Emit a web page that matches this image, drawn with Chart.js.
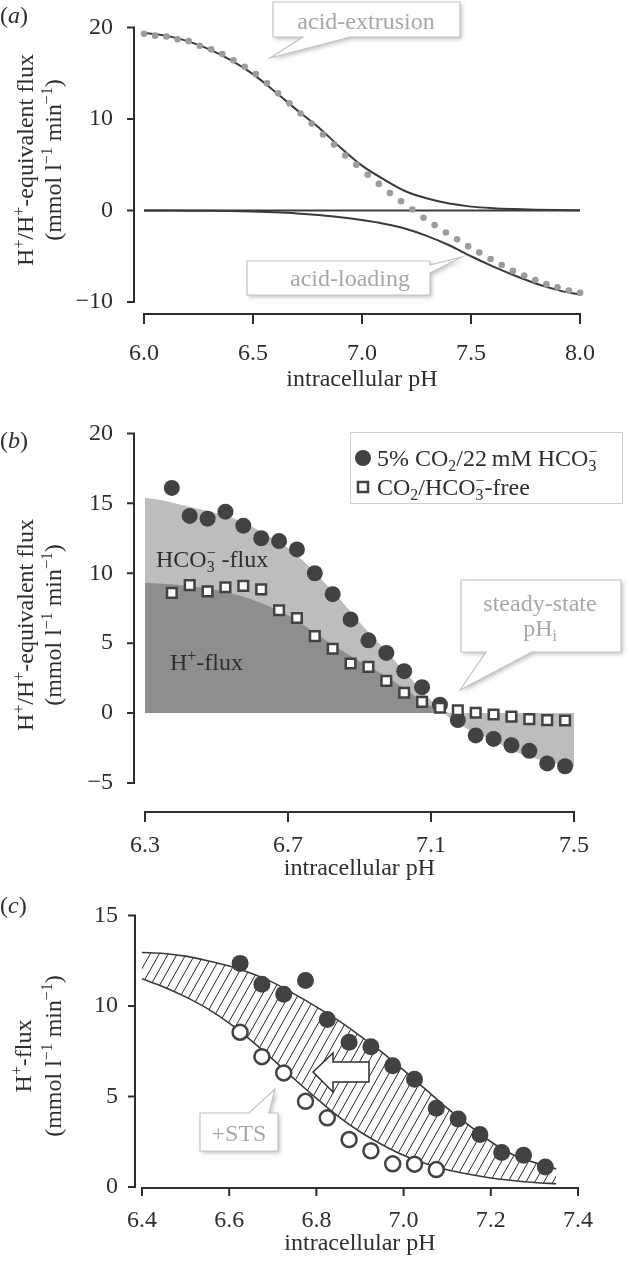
<!DOCTYPE html>
<html>
<head>
<meta charset="utf-8">
<title>intracellular pH fluxes</title>
<script src="https://cdn.jsdelivr.net/npm/chart.js@4.4.1/dist/chart.umd.min.js"></script>
<style>
  html, body { margin: 0; padding: 0; background: #fff; overflow: hidden; }
  #figure { position: relative; width: 629px; height: 1261px; overflow: hidden; }
  #figure canvas { position: absolute; left: 0; }
</style>
</head>
<body>
<div id="figure">
  <canvas id="chartA" width="629" height="405" style="top:-10px"></canvas>
  <canvas id="chartB" width="629" height="490" style="top:395px"></canvas>
  <canvas id="chartC" width="629" height="376" style="top:885px"></canvas>
</div>
<script>
// panel (a): modelled acid extrusion / acid loading and their sum
const phLineA = [6.0, 6.1, 6.2, 6.3, 6.4, 6.5, 6.6, 6.7, 6.8, 6.9, 7.0, 7.1, 7.2, 7.3, 7.4, 7.5, 7.6, 7.7, 7.8, 7.9, 8.0];
const acidExtrusion = [19.4, 19.1, 18.5, 17.6, 16.4, 14.9, 13.0, 11.0, 9.1, 6.9, 4.9, 3.4, 2.1, 1.3, 0.75, 0.42, 0.25, 0.15, 0.08, 0.04, 0.02];
const acidLoading = [0, -0.01, -0.02, -0.04, -0.07, -0.12, -0.2, -0.32, -0.5, -0.75, -1.05, -1.45, -2.0, -2.8, -3.8, -5.0, -6.1, -7.1, -8.0, -8.7, -9.2];
const phZeroA = [6.0, 8.0];
const zeroA = [0, 0];
const phDotsA = [6.000, 6.051, 6.103, 6.154, 6.205, 6.256, 6.308, 6.359, 6.410, 6.462, 6.513, 6.564, 6.615, 6.667, 6.718, 6.769, 6.821, 6.872, 6.923, 6.974,
                 7.026, 7.077, 7.128, 7.179, 7.231, 7.282, 7.333, 7.385, 7.436, 7.487, 7.538, 7.590, 7.641, 7.692, 7.744, 7.795, 7.846, 7.897, 7.949, 8.000];
const netFluxA = [19.3, 19.1, 19.0, 18.7, 18.5, 18.0, 17.6, 17.1, 16.4, 15.7, 14.9, 13.9, 12.8, 11.7, 10.6, 9.5, 8.3, 7.2, 6.0, 5.0,
                  3.9, 2.9, 1.9, 1.0, 0.1, -0.8, -1.6, -2.4, -3.15, -3.9, -4.6, -5.3, -5.95, -6.6, -7.1, -7.6, -8.05, -8.4, -8.75, -9.0];
const xTicksA = [6.0, 6.5, 7.0, 7.5, 8.0];
const yTicksA = [-10, 0, 10, 20];

// panel (b): measured fluxes with and without CO2/HCO3-
const phAreaB = [6.30, 6.35, 6.40, 6.45, 6.50, 6.55, 6.60, 6.65, 6.70, 6.75, 6.80, 6.85, 6.90, 6.95, 7.00, 7.05, 7.10, 7.15, 7.20, 7.25, 7.30, 7.35, 7.40, 7.45, 7.50];
const totalFluxB = [15.4, 15.2, 14.9, 14.6, 14.3, 13.9, 13.3, 12.6, 11.8, 10.7, 9.4, 8.0, 6.5, 5.1, 3.7, 2.3, 0.9, -0.3, -1.1, -1.7, -2.3, -2.9, -3.3, -3.6, -3.8];
const phHFluxB = [6.30, 6.35, 6.40, 6.45, 6.50, 6.55, 6.60, 6.65, 6.70, 6.75, 6.80, 6.85, 6.90, 6.95, 7.00, 7.05, 7.10, 7.15];
const hFluxB = [9.3, 9.25, 9.15, 9.0, 8.8, 8.5, 8.1, 7.6, 7.0, 6.2, 5.3, 4.5, 3.7, 3.0, 2.2, 1.3, 0.5, 0];
const phMeasB = [6.375, 6.425, 6.475, 6.525, 6.575, 6.625, 6.675, 6.725, 6.775, 6.825, 6.875, 6.925, 6.975, 7.025, 7.075, 7.125, 7.175, 7.225, 7.275, 7.325, 7.375, 7.425, 7.475];
const fluxCO2 = [16.1, 14.1, 13.9, 14.4, 13.4, 12.5, 12.3, 11.7, 10.0, 8.5, 6.7, 5.2, 4.3, 3.0, 1.85, 0.6, -0.5, -1.6, -1.85, -2.3, -2.7, -3.6, -3.8];
const fluxFree = [8.6, 9.15, 8.7, 9.0, 9.1, 8.85, 7.35, 6.8, 5.5, 4.6, 3.55, 3.3, 2.3, 1.45, 0.8, 0.38, 0.2, 0.02, -0.1, -0.25, -0.43, -0.5, -0.53];
const xTicksB = [6.3, 6.7, 7.1, 7.5];
const yTicksB = [-5, 0, 5, 10, 15, 20];

// panel (c): H+ flux, control vs +STS
const phFitC = [6.40, 6.45, 6.50, 6.55, 6.60, 6.65, 6.70, 6.75, 6.80, 6.85, 6.90, 6.95, 7.00, 7.05, 7.10, 7.15, 7.20, 7.25, 7.30, 7.35];
const fitControl = [12.95, 12.9, 12.75, 12.5, 12.2, 11.8, 11.3, 10.65, 9.95, 9.2, 8.35, 7.45, 6.45, 5.4, 4.35, 3.4, 2.5, 1.8, 1.35, 1.0];
const fitSTS = [11.5, 11.05, 10.5, 9.85, 9.05, 8.1, 7.05, 5.95, 4.9, 3.9, 3.05, 2.35, 1.75, 1.3, 0.95, 0.7, 0.5, 0.36, 0.25, 0.18];
const phControlC = [6.625, 6.675, 6.725, 6.775, 6.825, 6.875, 6.925, 6.975, 7.025, 7.075, 7.125, 7.175, 7.225, 7.275, 7.325];
const fluxControl = [12.35, 11.2, 10.65, 11.4, 9.25, 8.0, 7.75, 6.7, 5.95, 4.35, 3.75, 2.9, 1.9, 1.75, 1.1];
const phSTSC = [6.625, 6.675, 6.725, 6.775, 6.825, 6.875, 6.925, 6.975, 7.025, 7.075];
const fluxSTS = [8.55, 7.2, 6.3, 4.73, 3.82, 2.62, 2.0, 1.28, 1.26, 0.96];
const xTicksC = [6.4, 6.6, 6.8, 7.0, 7.2, 7.4];
const yTicksC = [0, 5, 10, 15];

const INK = '#2e2e2e';
const LINE = '#3a3a3a';
const MARK = '#424242';
const GREY_DOT = '#9c9c9c';
const LIGHT_AREA = '#bdbdbd';
const DARK_AREA = '#8e8e8e';
const CALLOUT_TEXT = '#a8a8a8';
const CALLOUT_LINE = '#c3c3c3';
const FONT = '"Liberation Serif", "Times New Roman", Times, serif';
const FS = 24;

const pts = (xs, ys) => xs.map((x, i) => ({ x: x, y: ys[i] }));
const fmtTick = v => v < 0 ? '\u2212' + Math.abs(v) : String(v);
const fmtPh = v => v.toFixed(1);
const font = (size, italic) => (italic ? 'italic ' : '') + size + 'px ' + FONT;

// "HCO_{3}^{−}" -> text parts, sub/sup stacked when they follow each other
const parseRich = s => {
  const parts = [];
  s.replace(/_\{([^}]*)\}|\^\{([^}]*)\}|[^_^]+/g, (m, sub, sup) => {
    const last = parts[parts.length - 1];
    if (sub !== undefined) parts.push({ sub: sub });
    else if (sup !== undefined) {
      if (last && last.sub !== undefined && last.sup === undefined) last.sup = sup;
      else parts.push({ sup: sup });
    } else parts.push({ t: m });
    return m;
  });
  return parts;
};

const drawRich = (ctx, src, x, y, opt) => {
  const o = Object.assign({ size: FS, align: 'left', color: INK }, opt);
  const parts = typeof src === 'string' ? parseRich(src) : src;
  const small = o.size * 0.66;
  const widths = parts.map(p => {
    if (p.t !== undefined) { ctx.font = font(o.size, p.it); return ctx.measureText(p.t).width; }
    ctx.font = font(small);
    return Math.max(p.sub ? ctx.measureText(p.sub).width : 0, p.sup ? ctx.measureText(p.sup).width : 0);
  });
  const total = widths.reduce((s, w) => s + w, 0);
  let cx = o.align === 'center' ? x - total / 2 : (o.align === 'right' ? x - total : x);
  ctx.save();
  ctx.fillStyle = o.color;
  ctx.textAlign = 'left';
  ctx.textBaseline = 'alphabetic';
  parts.forEach((p, i) => {
    if (p.t !== undefined) {
      ctx.font = font(o.size, p.it);
      ctx.fillText(p.t, cx, y);
    } else {
      ctx.font = font(small);
      if (p.sub) ctx.fillText(p.sub, cx, y + o.size * 0.2);
      if (p.sup) ctx.fillText(p.sup, cx, y - o.size * 0.38);
    }
    cx += widths[i];
  });
  ctx.restore();
};

// text centred on (cx, cy)
const centerText = (ctx, s, cx, cy, opt) => drawRich(ctx, s, cx, cy + FS * 0.33, Object.assign({ align: 'center' }, opt));

const verticalText = (ctx, s, cx, cy) => {
  ctx.save();
  ctx.translate(cx, cy);
  ctx.rotate(-Math.PI / 2);
  drawRich(ctx, s, 0, FS * 0.33, { align: 'center' });
  ctx.restore();
};

const panelLetter = (ctx, letter, cy) => {
  drawRich(ctx, [{ t: '(' }, { t: letter, it: true }, { t: ')' }], 0, cy + FS * 0.33);
};

const drawCallout = (ctx, outline, texts) => {
  ctx.save();
  ctx.beginPath();
  outline.forEach((p, i) => i ? ctx.lineTo(p[0], p[1]) : ctx.moveTo(p[0], p[1]));
  ctx.closePath();
  ctx.shadowColor = 'rgba(0,0,0,0.25)';
  ctx.shadowBlur = 4;
  ctx.shadowOffsetX = 2;
  ctx.shadowOffsetY = 2;
  ctx.fillStyle = '#fff';
  ctx.fill();
  ctx.shadowColor = 'transparent';
  ctx.strokeStyle = CALLOUT_LINE;
  ctx.lineWidth = 1.2;
  ctx.stroke();
  ctx.restore();
  texts.forEach(t => centerText(ctx, t[0], t[1], t[2], { color: CALLOUT_TEXT }));
};

// detached axis lines with outward ticks
const drawAxes = (chart, gapY, gapX, tickY, tickX) => {
  const { ctx, chartArea: a, scales: { x, y } } = chart;
  const ax = a.left - gapY;
  const ay = a.bottom + gapX;
  ctx.save();
  ctx.strokeStyle = INK;
  ctx.lineWidth = 2;
  ctx.beginPath();
  ctx.moveTo(ax, y.getPixelForValue(y.max) - 1);
  ctx.lineTo(ax, y.getPixelForValue(y.min) + 1);
  y.ticks.forEach(t => {
    const py = y.getPixelForValue(t.value);
    ctx.moveTo(ax - tickY, py);
    ctx.lineTo(ax, py);
  });
  ctx.moveTo(x.getPixelForValue(x.min) - 1, ay);
  ctx.lineTo(x.getPixelForValue(x.max) + 1, ay);
  x.ticks.forEach(t => {
    const px = x.getPixelForValue(t.value);
    ctx.moveTo(px, ay);
    ctx.lineTo(px, ay + tickX);
  });
  ctx.stroke();
  ctx.restore();
};

const axisOpts = (min, max, ticks, fmt, fit, pad) => ({
  type: 'linear',
  min: min,
  max: max,
  grid: { display: false },
  border: { display: false },
  afterBuildTicks: s => { s.ticks = ticks.map(v => ({ value: v })); },
  afterFit: fit,
  ticks: { color: INK, padding: pad, autoSkip: false, maxRotation: 0, font: { family: FONT, size: FS }, callback: fmt }
});

const chartOptions = (padding, xAxis, yAxis) => ({
  responsive: false,
  animation: false,
  devicePixelRatio: 1,
  layout: { padding: padding },
  plugins: {
    legend: { display: false },
    tooltip: { enabled: false },
    filler: { drawTime: 'beforeDatasetsDraw' }
  },
  scales: { x: xAxis, y: yAxis }
});

const curve = (xs, ys, extra) => Object.assign({
  data: pts(xs, ys),
  showLine: true,
  borderColor: LINE,
  borderWidth: 2,
  pointRadius: 0,
  cubicInterpolationMode: 'monotone',
  clip: false
}, extra);

const yTitle = ['H^{+}/H^{+}-equivalent flux', '(mmol l^{\u22121} min^{\u22121})'];

// ---------- (a)
new Chart(document.getElementById('chartA'), {
  type: 'scatter',
  data: {
    datasets: [
      { data: pts(phDotsA, netFluxA), pointRadius: 3.3, pointBackgroundColor: GREY_DOT, pointBorderWidth: 0, order: 0, clip: false },
      curve(phLineA, acidExtrusion, { order: 2 }),
      curve(phLineA, acidLoading, { order: 2 }),
      curve(phZeroA, zeroA, { order: 3 })
    ]
  },
  options: chartOptions({ left: 0, right: 49, top: 20, bottom: 0 },
    axisOpts(6, 8, xTicksA, fmtPh, s => { s.height = 93; }, 29),
    axisOpts(-10, 20, yTicksA, fmtTick, s => { s.width = 144; }, 23)),
  plugins: [{
    id: 'decorA',
    afterDraw: chart => {
      const ctx = chart.ctx;
      const a = chart.chartArea;
      drawAxes(chart, 10, 12, 7, 10);
      panelLetter(ctx, 'a', 25);
      verticalText(ctx, yTitle[0], 25, 170);
      verticalText(ctx, yTitle[1], 53, 170);
      centerText(ctx, 'intracellular pH', (a.left + a.right) / 2, 388);
      drawCallout(ctx, [[273, 12], [460, 12], [460, 47], [350, 47], [270, 68], [303, 47], [273, 47]],
        [['acid-extrusion', 366, 31]]);
      drawCallout(ctx, [[247, 271], [430, 271], [430, 275], [462, 267], [430, 283], [430, 305], [247, 305]],
        [['acid-loading', 350, 288]]);
    }
  }]
});

// ---------- (b)
new Chart(document.getElementById('chartB'), {
  type: 'scatter',
  data: {
    datasets: [
      curve(phAreaB, totalFluxB, { fill: 'origin', backgroundColor: LIGHT_AREA, borderColor: 'rgba(0,0,0,0)', borderWidth: 0, order: 5 }),
      curve(phHFluxB, hFluxB, { fill: 'origin', backgroundColor: DARK_AREA, borderColor: 'rgba(0,0,0,0)', borderWidth: 0, order: 4 }),
      { data: pts(phMeasB, fluxCO2), pointRadius: 8, pointBackgroundColor: MARK, pointBorderWidth: 0, order: 1, clip: false },
      { data: pts(phMeasB, fluxFree), pointStyle: 'rect', pointRadius: 6.8, pointBackgroundColor: '#fff',
        pointBorderColor: MARK, pointBorderWidth: 2.5, order: 0, clip: false }
    ]
  },
  options: chartOptions({ left: 0, right: 48, top: 38, bottom: 0 },
    axisOpts(6.3, 7.5, xTicksB, fmtPh, s => { s.height = 102; }, 40),
    axisOpts(-5, 20, yTicksB, fmtTick, s => { s.width = 145; }, 24)),
  plugins: [{
    id: 'decorB',
    afterDraw: chart => {
      const ctx = chart.ctx;
      const a = chart.chartArea;
      drawAxes(chart, 11, 29, 7, 10);
      panelLetter(ctx, 'b', 45);
      verticalText(ctx, yTitle[0], 25, 230);
      verticalText(ctx, yTitle[1], 53, 230);
      centerText(ctx, 'intracellular pH', (a.left + a.right) / 2, 472);
      drawRich(ctx, 'HCO_{3}^{\u2212} -flux', 156, 172);
      drawRich(ctx, 'H^{+}-flux', 170, 275);

      // legend
      ctx.save();
      ctx.fillStyle = '#fff';
      ctx.fillRect(350, 37, 273, 72);
      ctx.strokeStyle = '#cfcfcf';
      ctx.lineWidth = 1;
      ctx.strokeRect(350.5, 37.5, 272, 71);
      ctx.fillStyle = MARK;
      ctx.beginPath();
      ctx.arc(363, 63, 8, 0, Math.PI * 2);
      ctx.fill();
      ctx.fillStyle = '#fff';
      ctx.strokeStyle = MARK;
      ctx.lineWidth = 2.5;
      ctx.fillRect(358, 87, 10, 10);
      ctx.strokeRect(358, 87, 10, 10);
      ctx.restore();
      drawRich(ctx, '5% CO_{2}/22\u2009mM HCO_{3}^{\u2212}', 377, 71);
      drawRich(ctx, 'CO_{2}/HCO_{3}^{\u2212}-free', 377, 100);

      drawCallout(ctx, [[461, 185], [621, 185], [621, 257], [532, 257], [460, 295], [486, 257], [461, 257]],
        [['steady-state', 540, 208], ['pH_{i}', 540, 233]]);
    }
  }]
});

// ---------- (c)
const hatchCanvas = document.createElement('canvas');
hatchCanvas.width = 9;
hatchCanvas.height = 16;
const hg = hatchCanvas.getContext('2d');
hg.strokeStyle = '#2a2a2a';
hg.lineWidth = 1;
hg.beginPath();
hg.moveTo(-9, 16); hg.lineTo(0, 0);
hg.moveTo(0, 16); hg.lineTo(9, 0);
hg.moveTo(9, 16); hg.lineTo(18, 0);
hg.stroke();
const hatch = hg.createPattern(hatchCanvas, 'repeat');

new Chart(document.getElementById('chartC'), {
  type: 'scatter',
  data: {
    datasets: [
      curve(phFitC, fitControl, { fill: '+1', backgroundColor: hatch, borderWidth: 1.6, order: 3 }),
      curve(phFitC, fitSTS, { fill: false, borderWidth: 1.6, order: 3 }),
      { data: pts(phControlC, fluxControl), pointRadius: 8.5, pointBackgroundColor: MARK, pointBorderWidth: 0, order: 1, clip: false },
      { data: pts(phSTSC, fluxSTS), pointRadius: 7.5, pointBackgroundColor: '#fff', pointBorderColor: MARK,
        pointBorderWidth: 2.5, order: 0, clip: false }
    ]
  },
  options: chartOptions({ left: 0, right: 51, top: 30, bottom: 0 },
    axisOpts(6.4, 7.4, xTicksC, fmtPh, s => { s.height = 74; }, 11),
    axisOpts(0, 15, yTicksC, fmtTick, s => { s.width = 142; }, 16)),
  plugins: [{
    id: 'decorC',
    afterDraw: chart => {
      const ctx = chart.ctx;
      const a = chart.chartArea;
      drawAxes(chart, 7, 1, 7, 8);
      panelLetter(ctx, 'c', 20);
      verticalText(ctx, 'H^{+}-flux', 23, 171);
      verticalText(ctx, yTitle[1], 53, 171);
      centerText(ctx, 'intracellular pH', (a.left + a.right) / 2, 357);

      // shift arrow
      ctx.save();
      ctx.beginPath();
      [[313, 187], [333, 168], [333, 177], [369, 177], [369, 197], [333, 197], [333, 207]]
        .forEach((p, i) => i ? ctx.lineTo(p[0], p[1]) : ctx.moveTo(p[0], p[1]));
      ctx.closePath();
      ctx.fillStyle = '#fff';
      ctx.fill();
      ctx.strokeStyle = INK;
      ctx.lineWidth = 1.5;
      ctx.stroke();
      ctx.restore();

      drawCallout(ctx, [[200, 228], [249, 228], [275, 204], [269, 228], [278, 228], [278, 266], [200, 266]],
        [['+STS', 239, 248]]);
    }
  }]
});
</script>
</body>
</html>
